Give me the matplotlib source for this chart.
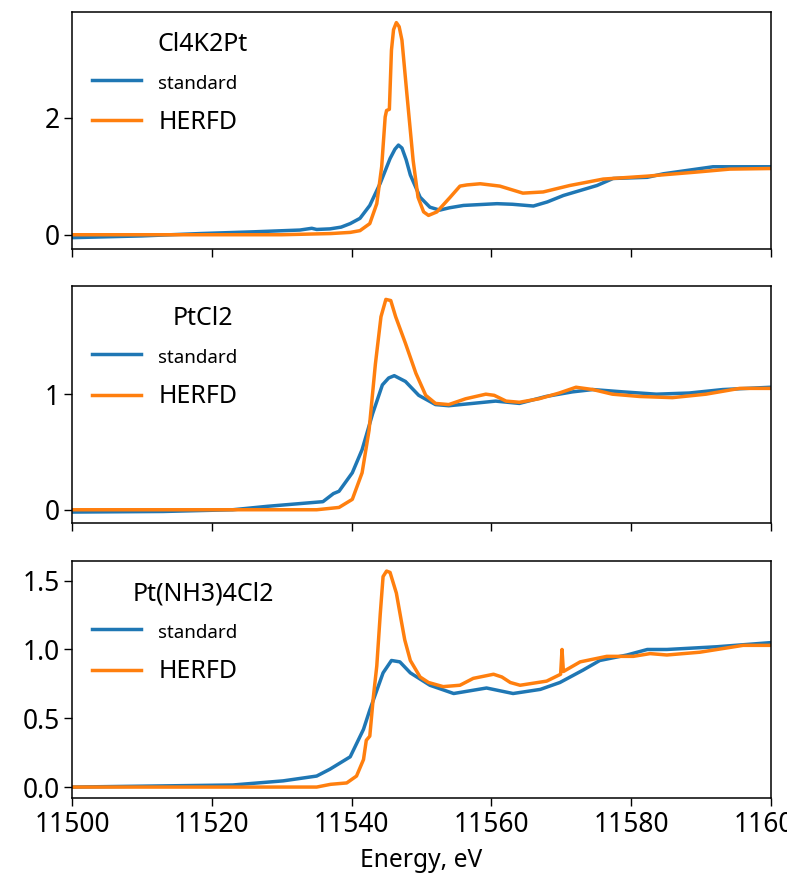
import numpy as np
from matplotlib import pyplot as plt

plt.rcParams['font.family'] = ['Noto Sans', 'DejaVu Sans']

# Cl4K2Pt
e_k2_std = [11500, 11510, 11518.3, 11526, 11532.6, 11534.3, 11535, 11536.9, 11538.5, 11539.8,
            11541.2, 11542.6, 11544.1, 11545.5, 11546.2, 11546.7, 11547.2, 11547.8, 11548.4,
            11549.8, 11551.2, 11552.6, 11554, 11556, 11560.8, 11563, 11566, 11568, 11570.3,
            11575.1, 11577.4, 11582.3, 11584.6, 11591.7, 11600]
mu_k2_std = [-0.05, -0.02, 0.02, 0.05, 0.08, 0.11, 0.09, 0.10, 0.13, 0.19,
             0.28, 0.50, 0.88, 1.30, 1.46, 1.53, 1.48, 1.28, 1.02,
             0.64, 0.47, 0.42, 0.46, 0.50, 0.53, 0.52, 0.49, 0.56, 0.67,
             0.84, 0.96, 0.98, 1.04, 1.16, 1.16]
e_k2_herfd = [11500, 11530, 11537, 11539.8, 11541.2, 11542.6, 11543.6, 11544.3, 11544.8, 11545.0,
              11545.4, 11545.7, 11546.0, 11546.4, 11546.8, 11547.2, 11547.9, 11548.8, 11549.5,
              11550.3, 11551.0, 11552.2, 11554.1, 11555.5, 11556.5, 11558.4, 11561.2, 11564.5,
              11567.4, 11571.2, 11576, 11582.3, 11589.4, 11594.1, 11600]
mu_k2_herfd = [0.0, 0.0, 0.02, 0.04, 0.07, 0.19, 0.53, 1.16, 2.01, 2.12,
               2.14, 3.15, 3.50, 3.62, 3.55, 3.32, 2.41, 1.27, 0.64,
               0.39, 0.33, 0.39, 0.64, 0.83, 0.85, 0.87, 0.83, 0.71,
               0.73, 0.84, 0.95, 1.00, 1.07, 1.12, 1.13]

# PtCl2
e_cl2_std = [11500, 11513, 11523, 11528, 11535.9, 11537.4, 11538.2, 11540.1, 11541.5, 11543.0,
             11544.4, 11545.3, 11546.1, 11547.7, 11549.6, 11552.0, 11553.9, 11557.3, 11560.6,
             11564.0, 11567.8, 11571.6, 11574.5, 11578.8, 11583.6, 11588.3, 11593.1, 11600]
mu_cl2_std = [-0.02, -0.015, 0.0, 0.03, 0.07, 0.14, 0.16, 0.32, 0.52, 0.83,
              1.08, 1.14, 1.16, 1.11, 0.99, 0.91, 0.90, 0.92, 0.94,
              0.92, 0.98, 1.02, 1.04, 1.02, 1.00, 1.01, 1.04, 1.06]
e_cl2_herfd = [11500, 11535, 11538.2, 11540.1, 11541.5, 11542.5, 11543.4, 11544.2, 11544.9, 11545.6,
               11546.3, 11547.7, 11549.2, 11550.6, 11552.0, 11553.9, 11556.3, 11559.2, 11560.4,
               11562.1, 11564.0, 11566.8, 11569.7, 11572.1, 11574.5, 11577.3, 11581.2, 11585.9,
               11590.7, 11595.5, 11600]
mu_cl2_herfd = [0.0, 0.0, 0.02, 0.09, 0.32, 0.69, 1.26, 1.67, 1.82, 1.81,
                1.67, 1.44, 1.18, 0.99, 0.92, 0.91, 0.96, 1.00, 0.99,
                0.94, 0.93, 0.96, 1.01, 1.06, 1.04, 1.00, 0.98, 0.97,
                1.00, 1.05, 1.05]

# Pt(NH3)4Cl2
e_nh3_std = [11500, 11523, 11530.2, 11535, 11536.9, 11539.8, 11541.7, 11542.6, 11544.5, 11545.7,
             11546.9, 11548.4, 11551.2, 11554.6, 11559.3, 11563.1, 11567, 11569.8, 11573.1,
             11575.5, 11579.4, 11582.3, 11585.1, 11592.3, 11600]
mu_nh3_std = [0.0, 0.015, 0.045, 0.08, 0.13, 0.22, 0.42, 0.56, 0.83, 0.92,
              0.91, 0.83, 0.74, 0.68, 0.72, 0.68, 0.71, 0.76, 0.85,
              0.92, 0.96, 1.00, 1.00, 1.02, 1.05]
e_nh3_herfd = [11500, 11535, 11537, 11539.3, 11540.7, 11541.7, 11542.1, 11542.6, 11543.1, 11543.6,
               11544.1, 11544.5, 11545.0, 11545.5, 11546.4, 11547.1, 11547.6, 11548.4, 11549.8,
               11551, 11553.1, 11555.5, 11557.4, 11560.3, 11561.5, 11562.7, 11564.1, 11567.9,
               11569.9, 11570.1, 11570.3, 11572.7, 11576.5, 11580.3, 11582.7, 11585.1, 11589.8,
               11596, 11600]
mu_nh3_herfd = [0.0, 0.0, 0.02, 0.03, 0.08, 0.20, 0.34, 0.37, 0.65, 0.88,
                1.26, 1.53, 1.57, 1.56, 1.41, 1.21, 1.07, 0.92, 0.80,
                0.76, 0.73, 0.74, 0.79, 0.82, 0.80, 0.76, 0.74, 0.77,
                0.82, 1.00, 0.84, 0.91, 0.95, 0.95, 0.97, 0.96, 0.98,
                1.03, 1.03]

samples = ['Cl4K2Pt', 'PtCl2', 'Pt(NH3)4Cl2']
standard = [(e_k2_std, mu_k2_std), (e_cl2_std, mu_cl2_std), (e_nh3_std, mu_nh3_std)]
herfd = [(e_k2_herfd, mu_k2_herfd), (e_cl2_herfd, mu_cl2_herfd), (e_nh3_herfd, mu_nh3_herfd)]
ylims = [(-0.24, 3.805), (-0.115, 1.936), (-0.08, 1.643)]
yticks = [[0, 2], [0, 1], [0.0, 0.5, 1.0, 1.5]]

fig = plt.figure(figsize=(7.87, 8.77), dpi=100)
tops = [0.9866, 0.6739, 0.3603]
height = 0.2703
axs = [fig.add_axes([0.0915, t - height, 0.8882, height]) for t in tops]

for i, ax in enumerate(axs):
    ax.plot(*standard[i], color='#1f77b4', lw=2.5, label='standard')
    ax.plot(*herfd[i], color='#ff7f0e', lw=2.5, label='HERFD')
    ax.set_xlim(11500, 11600)
    ax.set_ylim(*ylims[i])
    ax.set_xticks(np.arange(11500, 11601, 20))
    ax.set_yticks(yticks[i])
    if i == 2:
        ax.set_yticklabels(['0.0', '0.5', '1.0', '1.5'])
    ax.tick_params(labelsize=19, length=5.5, width=1)
    if i < 2:
        ax.tick_params(labelbottom=False)
    for s in ax.spines.values():
        s.set_linewidth(1.1)
    # sample name sits above the legend entries
    ax.text(0.1874, 0.861, samples[i], transform=ax.transAxes, ha='center', va='center', fontsize=18)
    leg = ax.legend(loc='upper left', bbox_to_anchor=(0.0286, 0.75), frameon=False,
                    fontsize=18, handlelength=1.95, handletextpad=0.7,
                    labelspacing=0.7, borderpad=0.0, borderaxespad=0.0)
    leg.get_texts()[0].set_fontsize(13.5)

axs[2].set_xlabel('Energy, eV', fontsize=17.7, labelpad=7)

fig.savefig('out.png', dpi=100)
